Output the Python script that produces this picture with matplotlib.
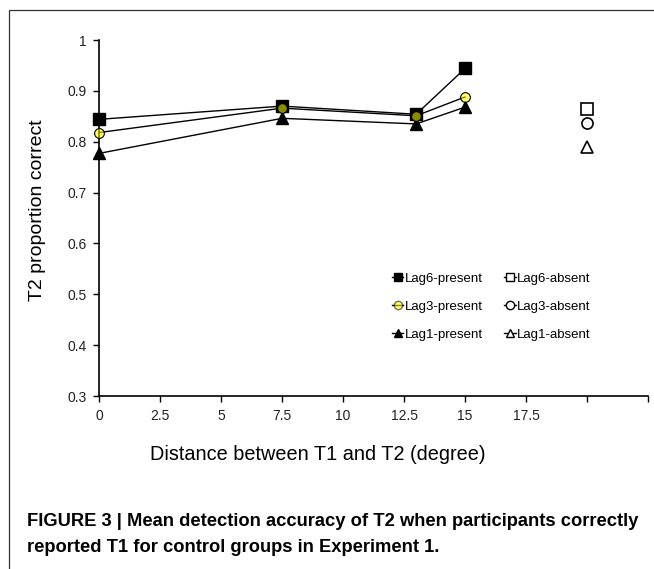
import numpy as np
import matplotlib.pyplot as plt
from matplotlib.lines import Line2D
from matplotlib.patches import Rectangle

# data
distance = [0, 7.5, 13, 15]
lag6_present = [0.844, 0.870, 0.854, 0.944]
lag3_present = [0.818, 0.866, 0.851, 0.888]
lag1_present = [0.777, 0.846, 0.835, 0.868]

absent_x = 20
lag6_absent = 0.865
lag3_absent = 0.837
lag1_absent = 0.789

xticks = [0, 2.5, 5, 7.5, 10, 12.5, 15, 17.5, 20, 22.5]
xticklabels = ['0', '2.5', '5', '7.5', '10', '12.5', '15', '17.5', '', '']
yticks = [0.3, 0.4, 0.5, 0.6, 0.7, 0.8, 0.9, 1.0]
yticklabels = ['0.3', '0.4', '0.5', '0.6', '0.7', '0.8', '0.9', '1']

plt.rcParams['font.family'] = ['Liberation Sans', 'DejaVu Sans']

W, H = 654, 569
fig = plt.figure(figsize=(W / 100, H / 100), dpi=100)

# outer frame (only left and top edges visible)
fig.patches.append(Rectangle((9 / W, -0.1), 1.2, 1 - 10 / H + 0.1,
                             transform=fig.transFigure, fill=False,
                             edgecolor='#333333', linewidth=0.9))

ax = fig.add_axes([99 / W, 1 - 396 / H, (648 - 99) / W, (396 - 40) / H])

yellow = (1, 1, 0, 0.55)
lw = 1.0
ax.plot(distance, lag6_present, color='black', lw=lw, marker='s', ms=8,
        mfc='black', mec='black', zorder=3)
ax.plot(distance, lag3_present, color='black', lw=lw, marker='o', ms=7,
        mfc=yellow, mec='black', mew=0.8, zorder=4)
ax.plot(distance, lag1_present, color='black', lw=lw, marker='^', ms=8,
        mfc='black', mec='black', zorder=2)

ax.plot([absent_x], [lag6_absent], ls='none', marker='s', ms=8,
        mfc='white', mec='black', mew=1.2)
ax.plot([absent_x], [lag3_absent], ls='none', marker='o', ms=8,
        mfc='white', mec='black', mew=1.2)
ax.plot([absent_x], [lag1_absent], ls='none', marker='^', ms=8,
        mfc='white', mec='black', mew=1.2)

ax.set_xlim(0, 22.5)
ax.set_ylim(0.3, 1.0)
ax.set_xticks(xticks)
ax.set_xticklabels(xticklabels)
ax.set_yticks(yticks)
ax.set_yticklabels(yticklabels)
ax.tick_params(direction='out', length=4, width=1, labelsize=10,
               labelcolor='#222222', pad=5)
ax.spines['top'].set_visible(False)
ax.spines['right'].set_visible(False)
for s in ('left', 'bottom'):
    ax.spines[s].set_linewidth(1.2)
for l in ax.lines:
    l.set_clip_on(False)

# legend
handles = [
    Line2D([], [], color='black', lw=lw, marker='s', ms=6, mfc='black'),
    Line2D([], [], color='black', lw=lw, marker='o', ms=6, mfc=yellow),
    Line2D([], [], color='black', lw=lw, marker='^', ms=6, mfc='black'),
    Line2D([], [], color='black', lw=lw, marker='s', ms=6, mfc='white'),
    Line2D([], [], color='black', lw=lw, marker='o', ms=6, mfc='white'),
    Line2D([], [], color='black', lw=lw, marker='^', ms=6, mfc='white'),
]
labels = ['Lag6-present', 'Lag3-present', 'Lag1-present',
          'Lag6-absent', 'Lag3-absent', 'Lag1-absent']
ax.legend(handles, labels, ncol=2, frameon=False, fontsize=9.5,
          handlelength=0.9, handletextpad=0.1, columnspacing=1.6,
          labelspacing=1.2, loc='upper left',
          bbox_to_anchor=(385 / W, 1 - 266 / H),
          bbox_transform=fig.transFigure, borderpad=0)

fig.text(38 / W, 1 - 210 / H, 'T2 proportion correct', rotation=90,
         ha='center', va='center', fontsize=14)
fig.text(318 / W, 1 - 454 / H, 'Distance between T1 and T2 (degree)',
         ha='center', va='center', fontsize=14.3)

fig.text(27 / W, 1 - 522 / H,
         'FIGURE 3 | Mean detection accuracy of T2 when participants correctly',
         ha='left', va='center', fontsize=13.2, fontweight='bold')
fig.text(27 / W, 1 - 547 / H,
         'reported T1 for control groups in Experiment 1.',
         ha='left', va='center', fontsize=13.2, fontweight='bold')

fig.savefig('out.png', dpi=100)
